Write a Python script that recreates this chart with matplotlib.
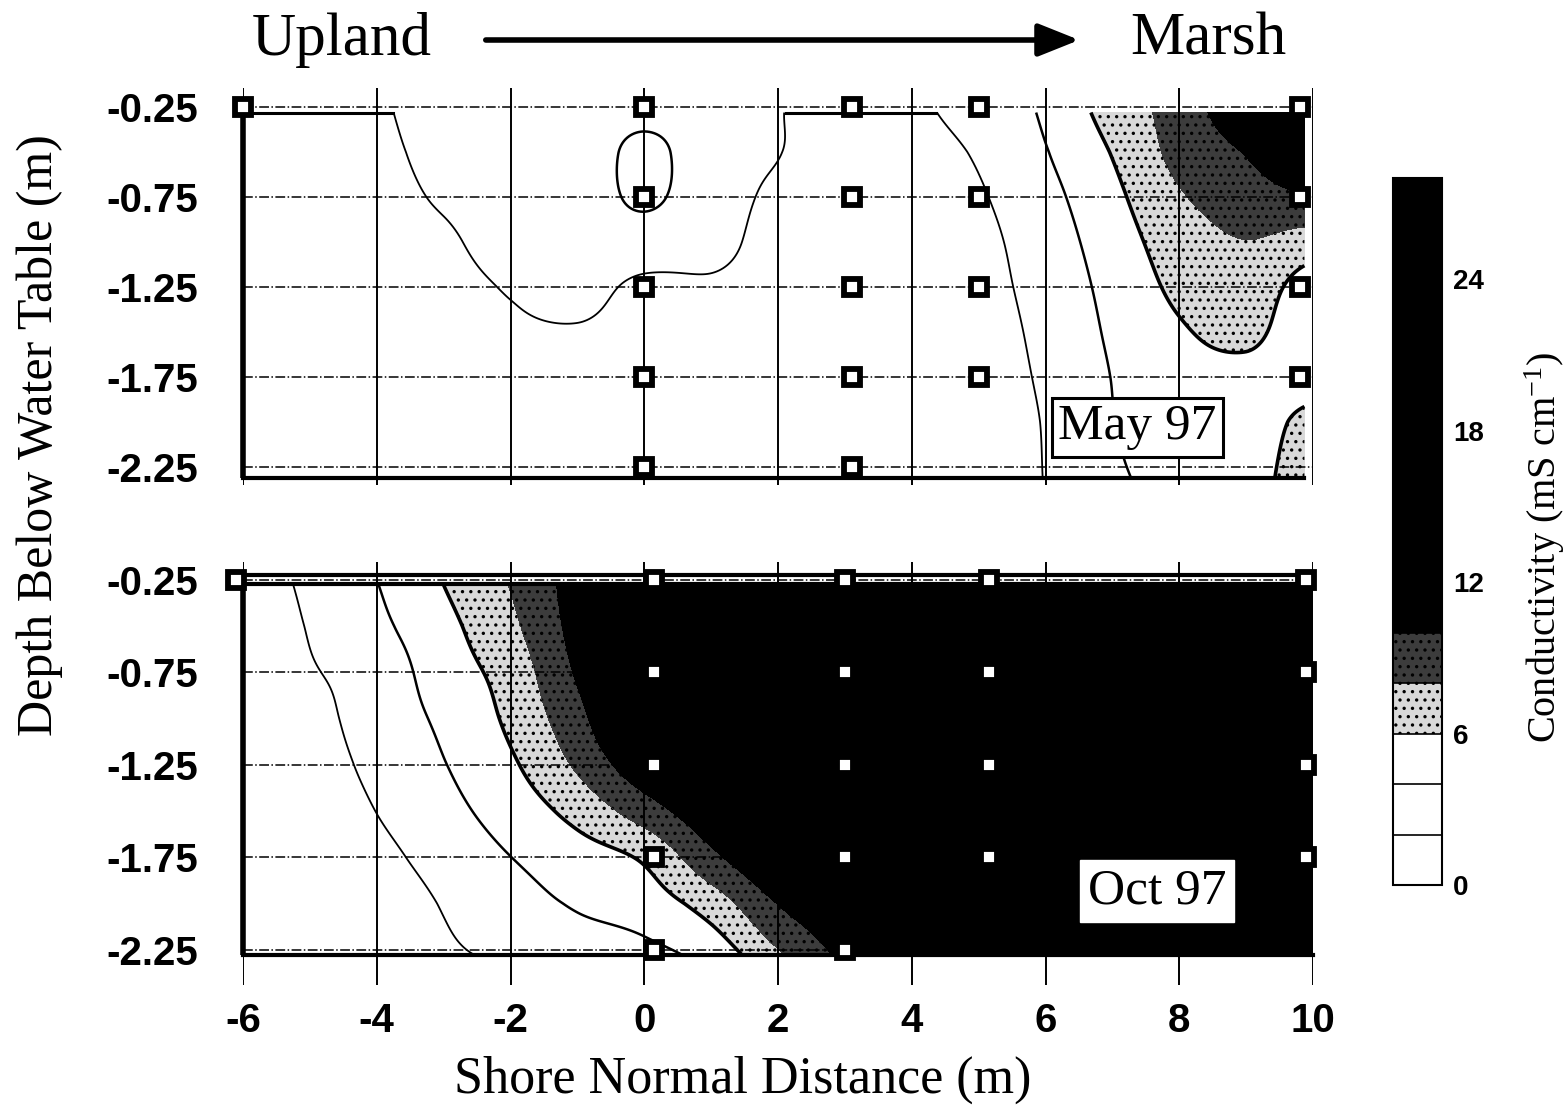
import numpy as np
import matplotlib
matplotlib.use("Agg")
import matplotlib.pyplot as plt
from matplotlib.patches import FancyArrowPatch

plt.rcParams["axes.unicode_minus"] = False
plt.rcParams["mathtext.default"] = "regular"
plt.rcParams["hatch.linewidth"] = 1.2

SERIF = "Liberation Serif"
SANS = "Liberation Sans"

# grid nodes: distance along the transect (m) and depth below water table (m)
may_x = [-6, -5, -4, -3, -2, -1, 0, 1, 2, 3, 4, 5, 6, 7, 8, 9, 9.87]
may_depth = [-0.28, -0.5, -0.75, -1.0, -1.25, -1.5, -1.75, -2.0, -2.31]
# conductivity (mS/cm), one row per depth
may_cond = [
    [1.8, 1.8, 1.85, 2.6, 2.9, 3.0, 3.4, 3.0, 2.05, 1.8, 1.85, 2.5, 4.3, 6.8, 8.9, 12.0, 18.0],
    [1.7, 1.7, 1.75, 2.4, 2.9, 2.75, 4.5, 2.7, 2.03, 1.7, 1.75, 2.15, 3.9, 6.1, 8.6, 10.15, 13.0],
    [1.6, 1.6, 1.65, 2.15, 2.8, 2.8, 4.35, 2.65, 1.8, 1.7, 1.7, 1.85, 3.4, 5.5, 7.8, 9.0, 9.8],
    [1.5, 1.5, 1.6, 1.8, 2.6, 2.9, 3.0, 2.4, 1.6, 1.6, 1.6, 1.6, 3.0, 5.0, 7.0, 7.95, 7.2],
    [1.5, 1.5, 1.5, 1.6, 2.1, 2.5, 1.7, 1.85, 1.6, 1.6, 1.55, 1.5, 2.7, 4.6, 6.4, 7.1, 5.2],
    [1.4, 1.4, 1.5, 1.5, 1.8, 1.9, 1.6, 1.7, 1.6, 1.5, 1.5, 1.4, 2.45, 4.3, 5.8, 6.35, 5.0],
    [1.4, 1.4, 1.4, 1.4, 1.5, 1.7, 1.6, 1.6, 1.5, 1.5, 1.5, 1.4, 2.25, 4.05, 5.3, 5.6, 5.4],
    [1.3, 1.3, 1.4, 1.4, 1.4, 1.5, 1.5, 1.5, 1.5, 1.5, 1.5, 1.4, 2.1, 3.95, 4.7, 5.3, 6.3],
    [1.3, 1.3, 1.3, 1.3, 1.3, 1.4, 1.4, 1.4, 1.4, 1.4, 1.45, 1.4, 2.05, 3.75, 4.4, 5.3, 6.8],
]

oct_x = [-6, -5, -4, -3, -2, -1, 0, 1, 2, 3, 4, 5, 6, 7, 8, 9, 10]
oct_depth = [-0.27, -0.5, -0.75, -1.0, -1.25, -1.5, -1.75, -2.0, -2.28]
oct_cond = [
    [1.5, 2.26, 3.96, 6.02, 8.1, 10.85, 13.0, 15.0, 17.0, 19.0, 20.0, 21.0, 22.0, 23.0, 24.0, 25.0, 26.0],
    [1.3, 2.09, 3.54, 5.45, 7.57, 10.64, 12.5, 14.0, 16.0, 18.0, 19.5, 20.5, 21.5, 22.5, 23.5, 24.5, 25.5],
    [1.2, 1.87, 2.83, 5.04, 6.81, 10.21, 12.5, 13.5, 15.5, 17.5, 19.0, 20.0, 21.0, 22.0, 23.0, 24.0, 25.0],
    [1.0, 1.45, 2.87, 4.39, 6.4, 9.4, 13.1, 14.0, 15.0, 17.0, 18.5, 19.5, 20.5, 21.5, 22.5, 23.5, 24.5],
    [0.8, 1.12, 2.52, 3.92, 5.7, 8.3, 11.4, 13.0, 14.5, 16.0, 17.5, 18.5, 19.5, 20.5, 21.5, 22.5, 23.5],
    [0.5, 0.7, 2.03, 3.39, 4.87, 6.66, 9.0, 11.45, 13.0, 14.5, 16.0, 17.0, 18.0, 19.0, 20.0, 21.0, 22.0],
    [0.4, 0.6, 1.48, 2.73, 3.98, 5.12, 6.3, 9.5, 12.0, 13.5, 15.0, 16.0, 17.0, 18.0, 19.0, 20.0, 21.0],
    [0.4, 0.6, 1.0, 2.11, 3.19, 4.2, 5.0, 6.9, 10.05, 12.0, 14.0, 15.0, 16.0, 17.0, 18.0, 19.0, 20.0],
    [0.4, 0.6, 0.9, 1.75, 2.25, 2.9, 3.4, 4.7, 7.7, 10.5, 13.0, 14.0, 15.0, 16.0, 17.0, 18.0, 19.0],
]

# piezometer sampling points
may_well_x = [-6.0, 0.0, 0.0, 0.0, 0.0, 0.0, 3.1, 3.1, 3.1, 3.1, 3.1, 5.0, 5.0, 5.0, 5.0, 9.8, 9.8, 9.8, 9.8]
may_well_d = [-0.25, -0.25, -0.75, -1.25, -1.75, -2.25, -0.25, -0.75, -1.25, -1.75, -2.25,
              -0.25, -0.75, -1.25, -1.75, -0.25, -0.75, -1.25, -1.75]
oct_well_x = [-6.1, 0.15, 0.15, 0.15, 0.15, 0.15, 3.0, 3.0, 3.0, 3.0, 3.0, 5.15, 5.15, 5.15, 5.15, 9.9, 9.9, 9.9, 9.9]
oct_well_d = [-0.25, -0.25, -0.75, -1.25, -1.75, -2.25, -0.25, -0.75, -1.25, -1.75, -2.25,
              -0.25, -0.75, -1.25, -1.75, -0.25, -0.75, -1.25, -1.75]

fill_levels = [0, 2, 4, 6, 8, 10, 28]
fill_colors = ["white", "white", "white", "#d9d9d9", "#3c3c3c", "black"]
fill_hatches = [None, None, None, "..", "..", None]
line_levels = [2, 4, 6]
line_widths = [1.3, 1.8, 2.6]

x_ticks = [-6, -4, -2, 0, 2, 4, 6, 8, 10]
depth_ticks = [-0.25, -0.75, -1.25, -1.75, -2.25]


def catmull_rom(a, n, axis):
    # smooth resampling of a gridded field along one axis (Catmull-Rom spline)
    a = np.moveaxis(np.asarray(a, dtype=float), axis, 0)
    m = a.shape[0]
    p = np.concatenate([2 * a[:1] - a[1:2], a, 2 * a[-1:] - a[-2:-1]], axis=0)
    s = np.linspace(0, m - 1, n)
    i = np.minimum(np.floor(s).astype(int), m - 2)
    t = (s - i)[:, None]
    p0, p1, p2, p3 = p[i], p[i + 1], p[i + 2], p[i + 3]
    out = 0.5 * (2 * p1 + (p2 - p0) * t + (2 * p0 - 5 * p1 + 4 * p2 - p3) * t ** 2
                 + (3 * p1 - p0 - 3 * p2 + p3) * t ** 3)
    return np.moveaxis(out, 0, axis), s


def draw_field(ax, xs, ds, vals, top_edge="full"):
    z, sx = catmull_rom(vals, 480, axis=1)
    z, sd = catmull_rom(z, 240, axis=0)
    xf = np.interp(sx, np.arange(len(xs)), xs)
    df = np.interp(sd, np.arange(len(ds)), ds)
    z = np.clip(z, 0.01, 27.9)
    cs = ax.contourf(xf, df, z, levels=fill_levels, colors=fill_colors,
                     hatches=fill_hatches, zorder=1)
    ax.contour(xf, df, z, levels=line_levels, colors="black",
               linewidths=line_widths, zorder=2)
    # outline of the gridded area
    ax.plot([xs[0], xs[0]], [ds[0], ds[-1]], color="black", lw=4, zorder=4,
            clip_on=False, solid_capstyle="butt")
    ax.plot([xs[0], xs[-1]], [ds[-1], ds[-1]], color="black", lw=3, zorder=4,
            clip_on=False)
    if top_edge == "full":
        ax.plot([xs[0], xs[-1]], [ds[0], ds[0]], color="black", lw=3, zorder=4)
    else:
        # lowest contour follows the upper edge where the surface stays below it
        edge = np.where(z[0] < line_levels[0], ds[0], np.nan)
        ax.plot(xf, edge, color="black", lw=2.2, zorder=4)
    return cs


def style_axes(ax, ylim, show_x):
    ax.set_xlim(-6, 10)
    ax.set_ylim(*ylim)
    for s in ax.spines.values():
        s.set_visible(False)
    ax.set_xticks(x_ticks)
    ax.set_yticks(depth_ticks)
    ax.set_yticklabels(["%.2f" % d for d in depth_ticks])
    if show_x:
        ax.set_xticklabels([str(t) for t in x_ticks])
    else:
        ax.set_xticklabels([])
    ax.tick_params(length=0, labelsize=29, pad=12)
    ax.tick_params(axis="y", pad=32)
    for lab in ax.get_xticklabels() + ax.get_yticklabels():
        lab.set_fontfamily(SANS)
        lab.set_fontweight("bold")
    for t in x_ticks:
        ax.axvline(t, color="black", lw=1.4, zorder=3)
    for d in depth_ticks:
        ax.axhline(d, color="black", lw=1.1, ls="-.", zorder=3)


def draw_wells(ax, wx, wd):
    ax.plot(wx, wd, ls="none", marker="s", ms=11.5, mfc="white", mec="black",
            mew=4.2, zorder=6, clip_on=False)


fig = plt.figure(figsize=(15.66, 11.12), dpi=100)
ax_top = fig.add_axes([0.1552, 0.5638, 0.6833, 0.357])
ax_bot = fig.add_axes([0.1552, 0.1142, 0.6833, 0.3804])

draw_field(ax_top, may_x, may_depth, may_cond, top_edge="low")
style_axes(ax_top, (-2.35, -0.144), False)
draw_wells(ax_top, may_well_x, may_well_d)
ax_top.text(0.836, 0.146, "May 97", transform=ax_top.transAxes, ha="center", va="center",
            fontsize=37, family=SERIF, zorder=7,
            bbox=dict(boxstyle="square,pad=0.12", fc="white", ec="black", lw=2.2))

cs = draw_field(ax_bot, oct_x, oct_depth, oct_cond)
ax_bot.plot([oct_x[0], oct_x[-1]], [-0.225, -0.225], color="black", lw=3, zorder=4)
style_axes(ax_bot, (-2.44, -0.153), True)
draw_wells(ax_bot, oct_well_x, oct_well_d)
ax_bot.text(0.854, 0.222, "Oct 97", transform=ax_bot.transAxes, ha="center", va="center",
            fontsize=37, family=SERIF, zorder=7,
            bbox=dict(boxstyle="square,pad=0.15", fc="white", ec="white", lw=1))

# colour scale
cax = fig.add_axes([0.8895, 0.2041, 0.0313, 0.6358])
cb = fig.colorbar(cs, cax=cax, ticks=[0, 6, 12, 18, 24], drawedges=True,
                  spacing="proportional")
cb.outline.set_linewidth(1.5)
cb.dividers.set_linewidth(1.2)
cax.tick_params(length=0, labelsize=20, pad=8)
for lab in cax.get_yticklabels():
    lab.set_fontfamily(SANS)
    lab.set_fontweight("bold")
fig.text(0.9866, 0.508, "Conductivity (mS cm$^{-1}$)", rotation=90, ha="center", va="center",
         fontsize=29, family=SERIF)

fig.text(0.0255, 0.609, "Depth Below Water Table (m)", rotation=90, ha="center", va="center",
         fontsize=36, family=SERIF)
fig.text(0.474, 0.029, "Shore Normal Distance (m)", ha="center", va="center",
         fontsize=37.5, family=SERIF)

# transect direction
fig.text(252 / 1566, 1 - 40 / 1112, "Upland", ha="left", va="center", fontsize=44, family=SERIF)
fig.text(1130 / 1566, 1 - 40 / 1112, "Marsh", ha="left", va="center", fontsize=44, family=SERIF)
fig.add_artist(FancyArrowPatch(
    (483 / 1566, 1 - 40 / 1112), (1082 / 1566, 1 - 40 / 1112),
    transform=fig.transFigure, arrowstyle="-|>,head_length=1.25,head_width=0.5",
    mutation_scale=20, lw=4, color="black"))

fig.savefig("out.png", dpi=100)
